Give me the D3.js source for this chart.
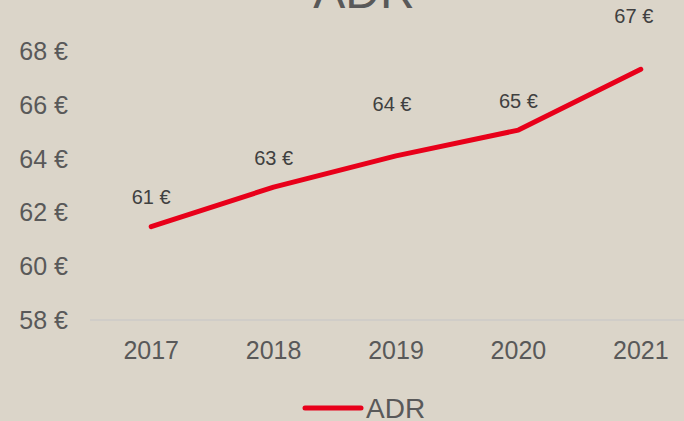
<!DOCTYPE html>
<html>
<head>
<meta charset="utf-8">
<script src="https://cdn.jsdelivr.net/npm/d3@7"></script>
<style>
  html, body { margin: 0; padding: 0; background: #dbd5c9; }
  svg { display: block; font-family: "Liberation Sans", Arial, sans-serif; }
</style>
</head>
<body>
<div id="chart"></div>
<script>
// data
var years = ['2017', '2018', '2019', '2020', '2021'];
var adr = [61.47, 62.94, 64.10, 65.06, 67.32];
var yTicks = [58, 60, 62, 64, 66, 68];
// manual shift of the value labels (as in the original workbook)
var labelDy = [-30, -29, -52, -29, -53];
var labelDx = [0, 0, -4, 0, -7];

var W = 684, H = 421;
var red = '#e8001a';
var axisGrey = '#595959';

var svg = d3.select('#chart').append('svg')
    .attr('width', W)
    .attr('height', H);

svg.append('rect')
    .attr('width', W).attr('height', H)
    .attr('fill', '#dbd5c9');

var x = d3.scaleBand()
    .domain(years)
    .range([90, 702])
    .padding(0);

var y = d3.scaleLinear()
    .domain([58, 68])
    .range([320, 51]);

// title (cut off at the top)
svg.append('text')
    .attr('x', 364)
    .attr('y', 8)
    .attr('text-anchor', 'middle')
    .attr('font-size', 48)
    .attr('fill', axisGrey)
    .text('ADR');

// baseline grid line
svg.append('line')
    .attr('x1', x.range()[0]).attr('x2', x.range()[1])
    .attr('y1', y(58)).attr('y2', y(58))
    .attr('stroke', '#d0cdc8')
    .attr('stroke-width', 2);

// y axis labels
svg.append('g')
    .selectAll('text')
    .data(yTicks)
    .enter()
    .append('text')
    .attr('x', 68)
    .attr('y', function(d){ return y(d); })
    .attr('dy', '0.36em')
    .attr('text-anchor', 'end')
    .attr('font-size', 25)
    .attr('fill', axisGrey)
    .text(function(d){ return d + ' €'; });

// x axis labels
svg.append('g')
    .selectAll('text')
    .data(years)
    .enter()
    .append('text')
    .attr('x', function(d){ return x(d) + x.bandwidth() / 2; })
    .attr('y', 359)
    .attr('text-anchor', 'middle')
    .attr('font-size', 25)
    .attr('fill', axisGrey)
    .text(function(d){ return d; });

// the line
var line = d3.line()
    .x(function(d, i){ return x(years[i]) + x.bandwidth() / 2; })
    .y(function(d){ return y(d); });

svg.append('path')
    .datum(adr)
    .attr('d', line)
    .attr('fill', 'none')
    .attr('stroke', red)
    .attr('stroke-width', 5)
    .attr('stroke-linecap', 'round')
    .attr('stroke-linejoin', 'round');

// value labels
svg.append('g')
    .selectAll('text')
    .data(adr)
    .enter()
    .append('text')
    .attr('x', function(d, i){ return x(years[i]) + x.bandwidth() / 2 + labelDx[i]; })
    .attr('y', function(d, i){ return y(d) + labelDy[i]; })
    .attr('dy', '0.36em')
    .attr('text-anchor', 'middle')
    .attr('font-size', 20)
    .attr('fill', '#404040')
    .text(function(d){ return Math.round(d) + ' €'; });

// legend
var legend = svg.append('g');
legend.append('line')
    .attr('x1', 305).attr('x2', 361)
    .attr('y1', 408).attr('y2', 408)
    .attr('stroke', red)
    .attr('stroke-width', 5)
    .attr('stroke-linecap', 'round');
legend.append('text')
    .attr('x', 366)
    .attr('y', 418)
    .attr('font-size', 28)
    .attr('fill', axisGrey)
    .text('ADR');
</script>
</body>
</html>
